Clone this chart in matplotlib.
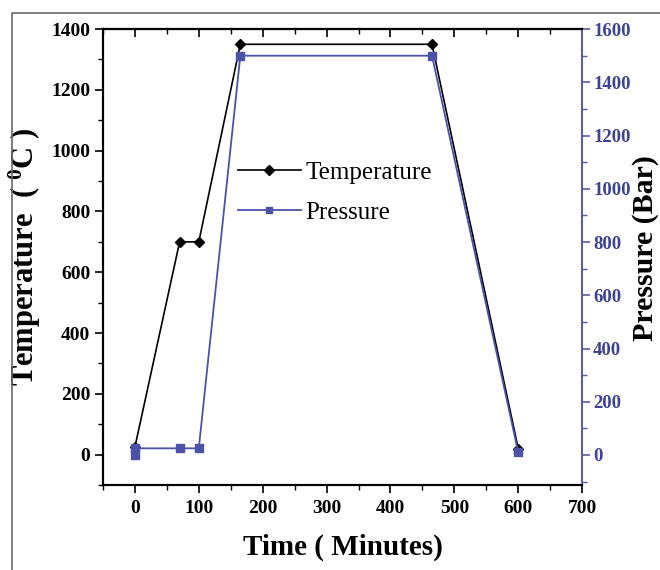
import matplotlib
matplotlib.use("Agg")
import matplotlib.pyplot as plt
from matplotlib.ticker import MultipleLocator
from matplotlib.lines import Line2D

# Heating / pressing schedule
time_temp = [0, 70, 100, 165, 465, 600]
temperature = [25, 700, 700, 1350, 1350, 20]

time_press = [0, 0, 70, 100, 165, 465, 600]
pressure = [0, 25, 25, 25, 1500, 1500, 10]

x_ticks = [0, 100, 200, 300, 400, 500, 600, 700]
t_ticks = [0, 200, 400, 600, 800, 1000, 1200, 1400]
p_ticks = [0, 200, 400, 600, 800, 1000, 1200, 1400, 1600]

plt.rcParams['font.family'] = ['Liberation Serif', 'DejaVu Serif']
plt.rcParams['mathtext.fontset'] = 'custom'
plt.rcParams['mathtext.rm'] = 'Liberation Serif'
plt.rcParams['mathtext.bf'] = 'Liberation Serif:bold'

blue = '#4b52a8'
blue_axis = '#5b5f9e'
blue_text = '#3d4294'

fig = plt.figure(figsize=(6.6, 5.7), dpi=100)
ax = fig.add_axes([0.156, 0.149, 0.726, 0.800])
ax2 = ax.twinx()

l1, = ax.plot(time_temp, temperature, color='black', lw=1.2, marker='D',
              ms=5.5, zorder=3)
l2, = ax2.plot(time_press, pressure, color=blue, lw=1.3, marker='s',
               ms=5.5, zorder=2)

ax.set_xlim(-50, 700)
ax.set_ylim(-100, 1400)
ax2.set_ylim(-113, 1600)

ax.set_xticks(x_ticks)
ax.set_yticks(t_ticks)
ax2.set_yticks(p_ticks)
ax.xaxis.set_minor_locator(MultipleLocator(50))
ax.yaxis.set_minor_locator(MultipleLocator(100))
ax2.yaxis.set_minor_locator(MultipleLocator(100))

for lab in ax.get_xticklabels() + ax.get_yticklabels():
    lab.set_fontweight('bold')
    lab.set_fontsize(14)
for lab in ax2.get_yticklabels():
    lab.set_fontweight('bold')
    lab.set_fontsize(13.5)
    lab.set_color(blue_text)

ax.tick_params(axis='x', which='major', direction='out', length=6, width=1.2, pad=5)
ax.tick_params(axis='x', which='minor', direction='out', length=3.5, width=1.0)
ax.tick_params(axis='y', which='major', direction='out', length=6, width=1.2, pad=3)
ax.tick_params(axis='y', which='minor', direction='out', length=3.5, width=1.0)
ax2.tick_params(axis='y', which='major', direction='out', length=6, width=1.2,
                color=blue_axis, pad=2)
ax2.tick_params(axis='y', which='minor', direction='out', length=3.5, width=1.0,
                color=blue_axis)

# top ticks point into the plot
secx = ax.secondary_xaxis('top')
secx.set_xticks(x_ticks)
secx.xaxis.set_minor_locator(MultipleLocator(50))
secx.tick_params(axis='x', which='major', direction='in', length=6, width=1.2,
                 labeltop=False)
secx.tick_params(axis='x', which='minor', direction='in', length=3.5, width=1.0)
secx.spines['top'].set_linewidth(1.5)

for s in ['left', 'bottom', 'top']:
    ax.spines[s].set_linewidth(1.5)
    ax2.spines[s].set_linewidth(1.5)
ax2.spines['right'].set_color(blue_axis)
ax2.spines['right'].set_linewidth(1.5)
ax.spines['right'].set_visible(False)

ax.set_xlabel('Time ( Minutes)', fontsize=21, fontweight='bold', labelpad=12)
ax.set_ylabel(r'Temperature  ( $\mathbf{^{0}}$C )', fontsize=22,
              fontweight='bold', labelpad=6)
rl = ax2.set_ylabel('Pressure (Bar)', fontsize=21.5, fontweight='bold')
rl.set_rotation_mode('anchor')
rl.set_verticalalignment('center')
rl.set_horizontalalignment('center')
ax2.yaxis.set_label_coords(1.133, 0.52)

leg = ax.legend([l1, l2], ['Temperature', 'Pressure'], loc='upper left',
                bbox_to_anchor=(0.235, 0.76), frameon=False, fontsize=18,
                handlelength=2.5, handletextpad=0.2, labelspacing=0.7,
                markerscale=0.9)

# outer frame
fig.add_artist(Line2D([12 / 660, 12 / 660, 1.0], [0.0, 1 - 13 / 570, 1 - 13 / 570],
                      transform=fig.transFigure, color='#6a6a6a', lw=1.2))

fig.savefig('out.png', dpi=100)
